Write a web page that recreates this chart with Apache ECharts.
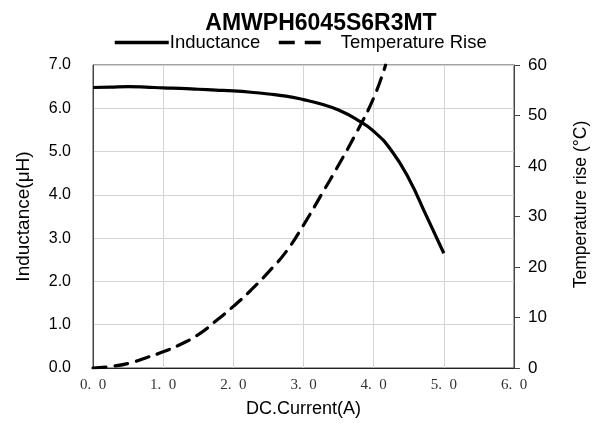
<!DOCTYPE html>
<html><head><meta charset="utf-8">
<script src="https://cdn.jsdelivr.net/npm/echarts@6/dist/echarts.min.js"></script>
<style>html,body{margin:0;padding:0;background:#fff}#c{width:598px;height:423px}</style>
</head><body><div id="c"></div>
<script>
var titleText = 'AMWPH6045S6R3MT';
var seriesNames = ['Inductance', 'Temperature Rise'];
var indCurrent = [0, 0.25, 0.5, 0.75, 1.0, 1.25, 1.5, 1.75, 2.0, 2.25, 2.5, 2.75, 3.0, 3.25, 3.5, 3.75, 4.0, 4.25, 4.5, 4.75, 5.0];
var indValues  = [6.48, 6.49, 6.50, 6.49, 6.47, 6.46, 6.44, 6.42, 6.40, 6.37, 6.33, 6.28, 6.20, 6.10, 5.96, 5.75, 5.47, 5.03, 4.38, 3.52, 2.65];
var tempCurrent = [0, 0.25, 0.5, 0.75, 1.0, 1.25, 1.5, 1.75, 2.0, 2.25, 2.5, 2.75, 3.0, 3.25, 3.5, 3.75, 4.0, 4.17];
var tempValues  = [0, 0.3, 0.9, 2.0, 3.2, 4.7, 6.6, 9.3, 12.2, 15.4, 19.0, 23.0, 28.3, 34.2, 40.2, 46.5, 53.5, 60.0];

function pairs(xs, ys){ return xs.map(function(x,i){ return [x, ys[i]]; }); }

var sans = 'Liberation Sans';
var chart = echarts.init(document.getElementById('c'));
chart.setOption({
  animation: false,
  backgroundColor: '#fff',
  title: { text: titleText, left: 316, textAlign: 'center', top: 7,
    textStyle: { fontFamily: sans, fontSize: 23, fontWeight: 'bold', color: '#000' } },
  legend: [
    { left: 113, top: 33, padding: 0, itemWidth: 54, itemHeight: 16,
      itemStyle: { opacity: 0 },
      lineStyle: { width: 3.5 },
      textStyle: { fontFamily: sans, fontSize: 18.5, color: '#000', padding: [0, 0, 0, -4] },
      data: [seriesNames[0]] },
    { left: 277, top: 33, padding: 0, itemWidth: 43, itemHeight: 16,
      itemStyle: { opacity: 0 },
      lineStyle: { type: [16, 10], cap: 'butt', width: 3.5 },
      textStyle: { fontFamily: sans, fontSize: 18.5, color: '#000', padding: [0, 0, 0, 14] },
      data: [seriesNames[1]] }
  ],
  grid: { left: 93, right: 84, top: 65, bottom: 55, show: true, borderColor: '#444', borderWidth: 1 },
  xAxis: { type: 'value', min: 0, max: 6, interval: 1,
    name: 'DC.Current(A)', nameLocation: 'middle', nameGap: 32,
    nameTextStyle: { fontFamily: sans, fontSize: 18, color: '#000' },
    axisLine: { lineStyle: { color: '#222', width: 1 } },
    axisTick: { show: false },
    axisLabel: { margin: 10, fontFamily: 'Liberation Serif', fontSize: 15, color: '#333',
      formatter: function(v){ return v.toFixed(1).replace('.', '.\u2002'); } },
    splitLine: { show: true, lineStyle: { color: '#d4d4d4' } } },
  yAxis: [
    { type: 'value', min: 0, max: 7, interval: 1, position: 'left',
      name: 'Inductance(μH)', nameLocation: 'middle', nameGap: 60,
      nameTextStyle: { fontFamily: sans, fontSize: 19, color: '#000' },
      axisLine: { show: true, lineStyle: { color: '#444' } },
      axisTick: { show: false },
      axisLabel: { margin: 22, fontFamily: sans, fontSize: 16, color: '#000',
        formatter: function(v){ return v.toFixed(1); } },
      splitLine: { show: true, lineStyle: { color: '#d4d4d4' } } },
    { type: 'value', min: 0, max: 60, interval: 10, position: 'right',
      name: 'Temperature rise (°C)', nameLocation: 'middle', nameGap: 58, nameRotate: 90,
      nameTextStyle: { fontFamily: sans, fontSize: 17.5, color: '#000', padding: [0, 0, 0, 24] },
      axisLine: { show: true, lineStyle: { color: '#444' } },
      axisTick: { show: true, inside: false, length: 6, lineStyle: { color: '#444' } },
      axisLabel: { margin: 14, fontFamily: sans, fontSize: 17, color: '#000' },
      splitLine: { show: false } }
  ],
  series: [
    { name: seriesNames[0], type: 'line', yAxisIndex: 0, symbol: 'none', smooth: 0.5,
      data: pairs(indCurrent, indValues),
      itemStyle: { color: '#000' },
      lineStyle: { color: '#000', width: 3.2 } },
    { name: seriesNames[1], type: 'line', yAxisIndex: 1, symbol: 'none', smooth: 0.5,
      data: pairs(tempCurrent, tempValues),
      itemStyle: { color: '#000' },
      lineStyle: { color: '#000', width: 3.2, type: [13, 9], cap: 'round' } }
  ]
});
</script>
</body></html>
